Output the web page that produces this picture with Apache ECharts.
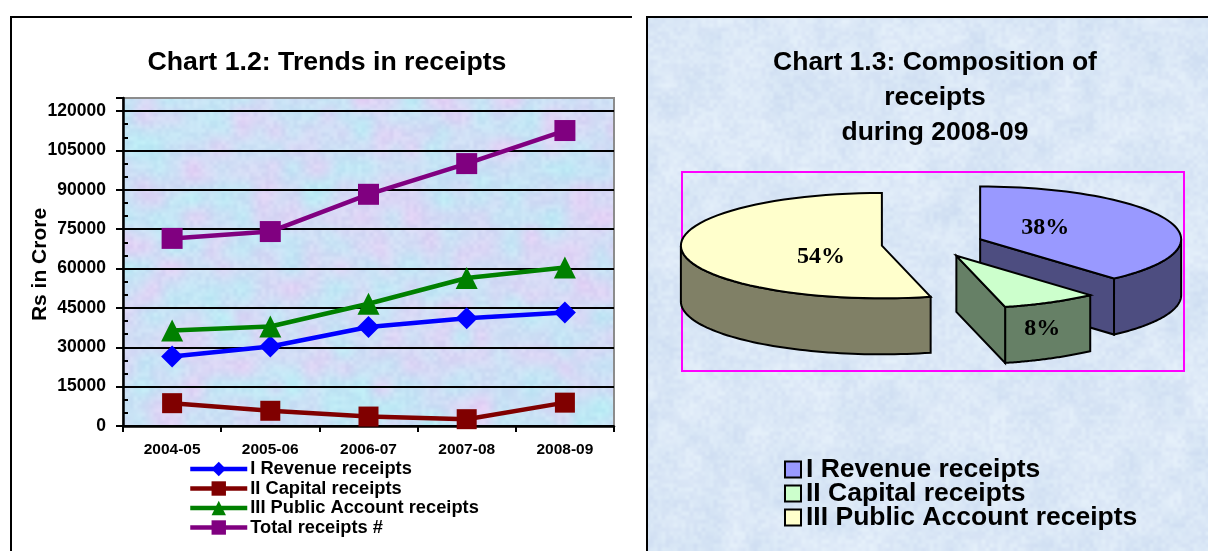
<!DOCTYPE html>
<html>
<head>
<meta charset="utf-8">
<style>html,body{margin:0;padding:0;background:#fff}#c{width:1208px;height:551px}</style>
<script src="https://cdn.jsdelivr.net/npm/echarts@6/dist/echarts.min.js"></script>
</head>
<body>
<div id="c"></div>
<script>
// ---- data ----
const years = ['2004-05', '2005-06', '2006-07', '2007-08', '2008-09'];
const revenueReceipts = [26500, 30300, 37700, 41100, 43300];
const capitalReceipts = [8700, 5800, 3600, 2600, 8900];
const publicAccountReceipts = [36400, 37900, 46600, 56400, 60400];
const totalReceipts = [71500, 74100, 88300, 100000, 112600];
const compositionNames = ['I Revenue receipts', 'II Capital receipts', 'III Public Account receipts'];
const compositionValues = [38.4, 7.7, 53.9];

// ---- pie geometry and styling ----
const PIE = { cx: 932.5, cy: 244, rx: 201, ry: 52.7, depth: 56, explode: 51 };
const pieTop = ['#9999FF', '#CCFFCC', '#FFFFCC'];
const pieSide = ['#4D4D80', '#668066', '#808066'];
const pieLabelOffset = [[65, -11], [86, 73], [-61, 11]];
const FONT = '"Liberation Sans", Arial, sans-serif';

function smoothNoise(x, y) {
  const h = (a, b) => { const s = Math.sin(a * 12.9898 + b * 78.233) * 43758.5453; return s - Math.floor(s); };
  const xi = Math.floor(x), yi = Math.floor(y);
  let fx = x - xi, fy = y - yi;
  fx = fx * fx * (3 - 2 * fx); fy = fy * fy * (3 - 2 * fy);
  const a = h(xi, yi), b = h(xi + 1, yi), c = h(xi, yi + 1), d = h(xi + 1, yi + 1);
  return (a + (b - a) * fx) * (1 - fy) + (c + (d - c) * fx) * fy;
}
function texture(w, h, paint) {
  const cv = document.createElement('canvas');
  cv.width = w; cv.height = h;
  const g = cv.getContext('2d');
  const im = g.createImageData(w, h);
  for (let y = 0; y < h; y++) for (let x = 0; x < w; x++) {
    const c = paint(x, y), i = (y * w + x) * 4;
    im.data[i] = c[0]; im.data[i + 1] = c[1]; im.data[i + 2] = c[2]; im.data[i + 3] = 255;
  }
  g.putImageData(im, 0, 0);
  return cv;
}
const plotTexture = texture(491, 328, (x, y) => {
  const a = smoothNoise(x / 24, y / 24) - 0.5, b = smoothNoise(x / 17 + 40, y / 17 + 9) - 0.5;
  const f = (smoothNoise(x / 4, y / 4) - 0.5) * 12;
  return [206 + a * 30 - b * 16 + f, 222 - a * 18 + b * 14 + f, 245 + f * 0.5];
});
const panelTexture = texture(561, 534, (x, y) => {
  const a = smoothNoise(x / 22 + 7, y / 22) - 0.5, f = (smoothNoise(x / 4, y / 4) - 0.5) * 11;
  return [218 + a * 14 + f, 231 + a * 10 + f, 246 + a * 5 + f * 0.4];
});

function angleOf(i) {
  let s = 0;
  const total = compositionValues.reduce((p, v) => p + v, 0);
  for (let k = 0; k < i; k++) s += compositionValues[k];
  return [s / total * Math.PI * 2, (s + compositionValues[i]) / total * Math.PI * 2];
}
function renderSlice(i) {
  const [a, b] = angleOf(i), mid = (a + b) / 2, k = PIE.ry / PIE.rx;
  const cx = PIE.cx + PIE.explode * Math.sin(mid);
  const cy = PIE.cy - PIE.explode * Math.cos(mid) * k;
  const pt = (t) => [cx + PIE.rx * Math.sin(t), cy - PIE.ry * Math.cos(t)];
  const arc = (t0, t1) => { const o = [], n = 60; for (let j = 0; j <= n; j++) o.push(pt(t0 + (t1 - t0) * j / n)); return o; };
  const drop = (p) => [p[0], p[1] + PIE.depth];
  const sty = (fill) => ({ fill, stroke: '#000', lineWidth: 2, lineJoin: 'miter' });
  const kids = [];
  const w0 = Math.max(a, Math.PI / 2), w1 = Math.min(b, Math.PI * 1.5);
  if (w1 > w0) {
    const top = arc(w0, w1);
    kids.push({ type: 'polygon', shape: { points: top.concat(top.slice().reverse().map(drop)) }, style: sty(pieSide[i]) });
  }
  if (Math.sin(b) > 1e-6) {
    const e = pt(b), c = [cx, cy];
    kids.push({ type: 'polygon', shape: { points: [c, e, drop(e), drop(c)] }, style: sty(pieSide[i]) });
  }
  kids.push({ type: 'polygon', shape: { points: [[cx, cy]].concat(arc(a, b)) }, style: sty(pieTop[i]) });
  kids.push({
    type: 'text', z2: 10,
    style: {
      text: Math.round(compositionValues[i]) + '%', x: cx + pieLabelOffset[i][0], y: cy + pieLabelOffset[i][1],
      align: 'center', verticalAlign: 'middle', fill: '#000',
      font: 'bold 24px "Liberation Serif", "Times New Roman", serif'
    }
  });
  return { type: 'group', children: kids };
}

const lineSeries = (name, data, color, symbol, size) => ({
  name, data, type: 'line', symbol, symbolSize: size, showSymbol: true,
  lineStyle: { color, width: 4.5 }, itemStyle: { color }, z: 5, silent: true
});
const pieSeries = compositionNames.map((name, i) => ({
  name, type: 'custom', coordinateSystem: 'none', data: [compositionValues[i]], silent: true,
  itemStyle: { color: pieTop[i] }, z: 3 + i,
  renderItem: () => renderSlice(i)
}));

const chart = echarts.init(document.getElementById('c'), null, { renderer: 'canvas' });
chart.setOption({
  animation: false,
  title: [
    { text: 'Chart 1.2: Trends in receipts', left: 322, top: 44, textAlign: 'center',
      textStyle: { fontFamily: FONT, fontWeight: 'bold', fontSize: 26.7, color: '#000' } },
    { text: 'Chart 1.3: Composition of\nreceipts\nduring 2008-09', left: 930, top: 40, textAlign: 'center',
      textStyle: { fontFamily: FONT, fontWeight: 'bold', fontSize: 26.5, lineHeight: 35, color: '#000' } }
  ],
  grid: { left: 123, top: 98, width: 491, height: 328, show: true, borderColor: '#8c8c8c', borderWidth: 2, backgroundColor: 'transparent' },
  xAxis: {
    type: 'category', data: years, boundaryGap: true,
    axisLine: { lineStyle: { color: '#000', width: 2.5 } },
    axisTick: { show: true, length: 6, lineStyle: { color: '#000', width: 2 } },
    axisLabel: { margin: 16, fontFamily: FONT, fontWeight: 'bold', fontSize: 15.5, color: '#000' }
  },
  yAxis: {
    type: 'value', min: 0, max: 125000, interval: 15000,
    name: 'Rs in Crore', nameLocation: 'middle', nameRotate: 90, nameGap: 72, nameMoveOverlap: false,
    nameTextStyle: { fontFamily: FONT, fontWeight: 'bold', fontSize: 21, color: '#000', padding: [0, 5, 0, 0] },
    axisLine: { show: true, onZero: false, lineStyle: { color: '#000', width: 2.5 } },
    axisTick: { show: true, length: 7, lineStyle: { color: '#000', width: 2 } },
    minorTick: { show: true, splitNumber: 3, length: -5, lineStyle: { color: '#000', width: 2 } },
    axisLabel: { margin: 17, showMaxLabel: false, formatter: (v) => String(v), fontFamily: FONT, fontWeight: 'bold', fontSize: 17.5, color: '#000' },
    splitLine: { show: true, showMaxLine: false, lineStyle: { color: '#000', width: 2 } }
  },
  legend: [
    { orient: 'vertical', left: 183, top: 455, itemWidth: 57, itemHeight: 18, itemGap: 1.5,
      lineStyle: { width: 4.5 },
      data: ['I Revenue receipts', 'II Capital receipts', 'III Public Account receipts', 'Total receipts #'],
      textStyle: { fontFamily: FONT, fontWeight: 'bold', fontSize: 18.3, lineHeight: 15, color: '#000', padding: [0, 0, 0, -2] } },
    { orient: 'vertical', left: 779, top: 451, itemWidth: 16, itemHeight: 16, itemGap: -3, icon: 'rect',
      data: compositionNames.map((name, i) => ({ name, itemStyle: { color: pieTop[i], borderColor: '#000', borderWidth: 2 } })),
      textStyle: { fontFamily: FONT, fontWeight: 'bold', fontSize: 26.5, lineHeight: 24, color: '#000', padding: [0, 0, 0, 0] } }
  ],
  graphic: [
    { type: 'image', z: -10, silent: true, style: { image: plotTexture, x: 123, y: 98, width: 491, height: 328 } },
    { type: 'image', z: -10, silent: true, style: { image: panelTexture, x: 647, y: 17, width: 561, height: 534 } },
    { type: 'polyline', z: -5, silent: true, shape: { points: [[11, 560], [11, 17], [632, 17]] }, style: { fill: 'none', stroke: '#000', lineWidth: 2 } },
    { type: 'polyline', z: -5, silent: true, shape: { points: [[647, 560], [647, 17], [1208, 17]] }, style: { fill: 'none', stroke: '#000', lineWidth: 2 } },
    { type: 'rect', z: -5, silent: true, shape: { x: 682, y: 172, width: 502, height: 199 }, style: { fill: 'none', stroke: '#FF00FF', lineWidth: 2 } }
  ],
  series: [
    lineSeries('I Revenue receipts', revenueReceipts, '#0000FF', 'diamond', 22),
    lineSeries('II Capital receipts', capitalReceipts, '#800000', 'rect', 20),
    lineSeries('III Public Account receipts', publicAccountReceipts, '#008000', 'triangle', 22),
    lineSeries('Total receipts #', totalReceipts, '#800080', 'rect', 21)
  ].concat(pieSeries)
});
</script>
</body>
</html>
